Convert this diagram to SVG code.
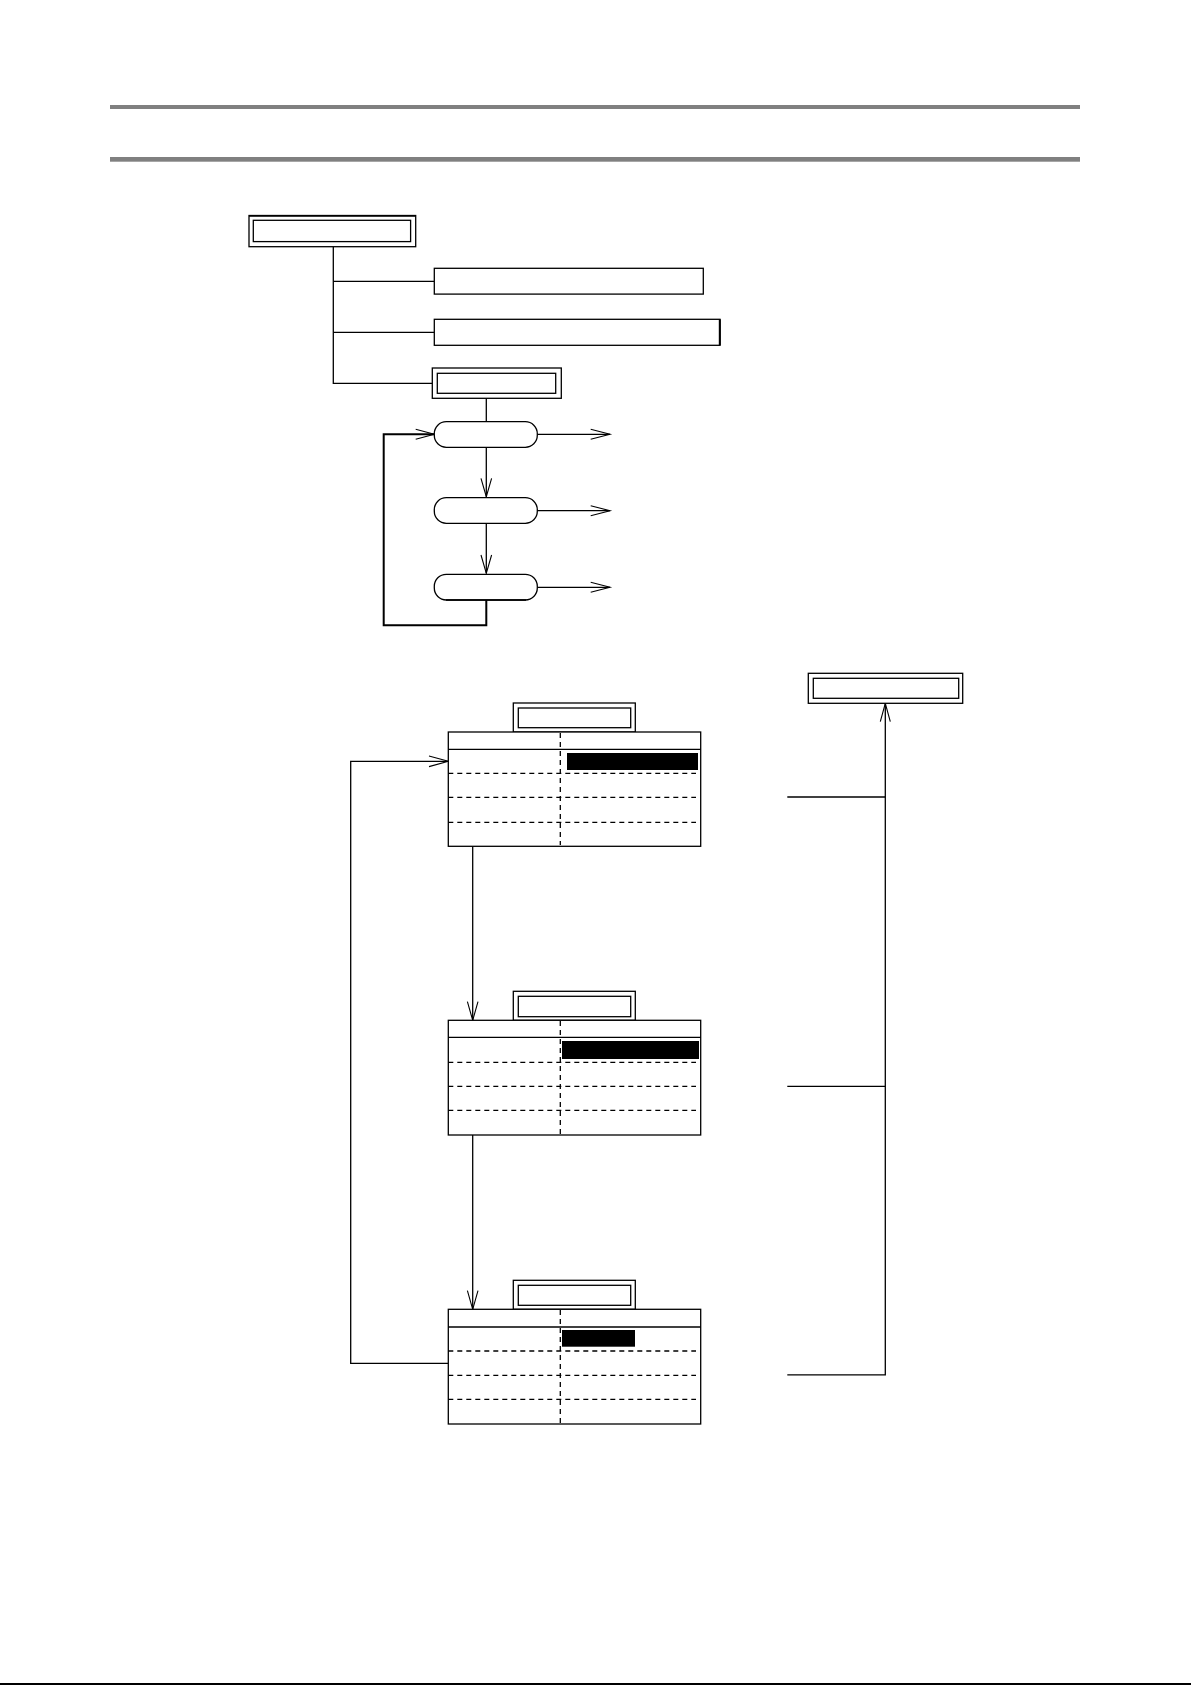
<svg xmlns="http://www.w3.org/2000/svg" width="1191" height="1685" viewBox="0 0 1191 1685">
<style>
.b{fill:#fff;stroke:#000;stroke-width:1.3}
.ln{fill:none;stroke:#000;stroke-width:1.3}
.th{fill:none;stroke:#000;stroke-width:2}
.ah{fill:none;stroke:#000;stroke-width:1.1}
.d{fill:none;stroke:#000;stroke-width:1.3;stroke-dasharray:5 4}
.bar{fill:#000}
.rule{fill:#808080}
</style>
<rect width="1191" height="1685" fill="#fff"/>
<rect class="rule" x="110" y="105" width="970" height="4"/>
<rect class="rule" x="110" y="157" width="970" height="4.7"/>
<rect x="0" y="1683" width="1191" height="2" fill="#000"/>

<g id="connectors">
<polyline class="ln" points="333.3,246.7 333.3,383.3 432.3,383.3"/>
<line class="ln" x1="333.3" y1="281.3" x2="434.3" y2="281.3"/>
<line class="ln" x1="333.3" y1="332.3" x2="434.3" y2="332.3"/>
<line class="ln" x1="486.3" y1="398.3" x2="486.3" y2="421.7"/>
<line class="ln" x1="537.3" y1="434.3" x2="610" y2="434.3"/>
<polyline class="ah" points="590.7,429.3 610,434.3 590.7,439.3"/>
<line class="ln" x1="537.3" y1="510.7" x2="610" y2="510.7"/>
<polyline class="ah" points="590.7,505.7 610,510.7 590.7,515.7"/>
<line class="ln" x1="537.3" y1="587.3" x2="610" y2="587.3"/>
<polyline class="ah" points="590.7,582.3 610,587.3 590.7,592.3"/>
<line class="ln" x1="486.3" y1="447.3" x2="486.3" y2="496.7"/>
<polyline class="ah" points="481,478.3 486.3,496.7 491.6,478.3"/>
<line class="ln" x1="486.3" y1="523.3" x2="486.3" y2="573.3"/>
<polyline class="ah" points="481,555 486.3,573.3 491.6,555"/>
<polyline class="th" points="486.3,600 486.3,625.3 383.7,625.3 383.7,434.3 434.3,434.3"/>
<polyline class="ah" points="415.7,429.3 434.3,434.3 415.7,439.3"/>

<polyline class="ln" points="448.3,1363.3 350.7,1363.3 350.7,761.3 448.3,761.3"/>
<polyline class="ah" points="429,756 448.3,761.3 429,766.6"/>
<line class="ln" x1="472.7" y1="846.3" x2="472.7" y2="1020.3"/>
<polyline class="ah" points="467.4,1001.7 472.7,1020.3 478,1001.7"/>
<line class="ln" x1="472.7" y1="1135" x2="472.7" y2="1309.3"/>
<polyline class="ah" points="467.4,1290.7 472.7,1309.3 478,1290.7"/>

<polyline class="ln" points="787.3,1374.8 885.3,1374.8 885.3,703.3"/>
<line class="ln" x1="787.3" y1="797" x2="885.3" y2="797"/>
<line class="ln" x1="787.3" y1="1086.3" x2="885.3" y2="1086.3"/>
<polyline class="ah" points="880.3,721.7 885.3,703.3 890.3,721.7"/>
</g>

<g id="root">
<rect class="b" x="249" y="215.5" width="166.7" height="31.2"/>
<line x1="249" y1="216" x2="415.7" y2="216" stroke="#000" stroke-width="1.5"/>
<rect class="b" x="253.3" y="220.3" width="157.3" height="21.3"/>
</g>
<g id="item1"><rect class="b" x="434.3" y="268.3" width="269" height="25.8"/></g>
<g id="item2"><rect class="b" x="434.3" y="319.3" width="285.7" height="26"/><line x1="719.8" y1="319.3" x2="719.8" y2="345.3" stroke="#000" stroke-width="2"/></g>
<g id="item3">
<rect class="b" x="432.3" y="368" width="129" height="30.3"/>
<rect class="b" x="437.3" y="373.3" width="118.4" height="20"/>
</g>
<g id="state1"><rect class="b" x="434.3" y="421.7" width="103" height="25.6" rx="12" ry="12"/></g>
<g id="state2"><rect class="b" x="434.3" y="497.7" width="103" height="25.6" rx="12" ry="12"/></g>
<g id="state3"><rect class="b" x="434.3" y="574.3" width="103" height="25.7" rx="12" ry="12"/><line x1="446" y1="600" x2="526" y2="600" stroke="#000" stroke-width="1.6"/></g>

<g id="target">
<rect class="b" x="808.3" y="673.3" width="154.4" height="30"/>
<rect class="b" x="813.3" y="678.3" width="145.4" height="20"/>
</g>

<g id="table1">
<rect class="b" x="513.3" y="703" width="122" height="29"/>
<rect class="b" x="518.3" y="708" width="112.4" height="19.7"/>
<rect class="b" x="448.3" y="732" width="252.4" height="114.3"/>
<line class="ln" x1="448.3" y1="749.3" x2="700.7" y2="749.3"/>
<rect class="bar" x="567" y="753" width="131" height="17"/>
<line class="d" x1="448.3" y1="773.3" x2="696" y2="773.3"/>
<line class="d" x1="448.3" y1="797.3" x2="696" y2="797.3"/>
<line class="d" x1="448.3" y1="822.3" x2="696" y2="822.3"/>
<line class="d" x1="560.3" y1="733" x2="560.3" y2="845"/>
</g>

<g id="table2">
<rect class="b" x="513.3" y="991.3" width="122" height="29"/>
<rect class="b" x="518.3" y="996.3" width="112.4" height="20.4"/>
<rect class="b" x="448.3" y="1020.3" width="252.4" height="114.7"/>
<line class="ln" x1="448.3" y1="1037.3" x2="700.7" y2="1037.3"/>
<rect class="bar" x="562" y="1041" width="137" height="18"/>
<line class="d" x1="448.3" y1="1062.3" x2="696" y2="1062.3"/>
<line class="d" x1="448.3" y1="1086.3" x2="696" y2="1086.3"/>
<line class="d" x1="448.3" y1="1110.3" x2="696" y2="1110.3"/>
<line class="d" x1="560.3" y1="1021" x2="560.3" y2="1134"/>
</g>

<g id="table3">
<rect class="b" x="513.3" y="1280.3" width="122" height="29"/>
<rect class="b" x="518.3" y="1285.3" width="112.4" height="20"/>
<rect class="b" x="448.3" y="1309.3" width="252.4" height="114.7"/>
<line class="ln" x1="448.3" y1="1327" x2="700.7" y2="1327"/>
<rect class="bar" x="562" y="1330" width="73" height="16.7"/>
<line class="d" x1="448.3" y1="1351" x2="696" y2="1351"/>
<line class="d" x1="448.3" y1="1375.3" x2="696" y2="1375.3"/>
<line class="d" x1="448.3" y1="1399.3" x2="696" y2="1399.3"/>
<line class="d" x1="560.3" y1="1310" x2="560.3" y2="1423"/>
</g>
</svg>
